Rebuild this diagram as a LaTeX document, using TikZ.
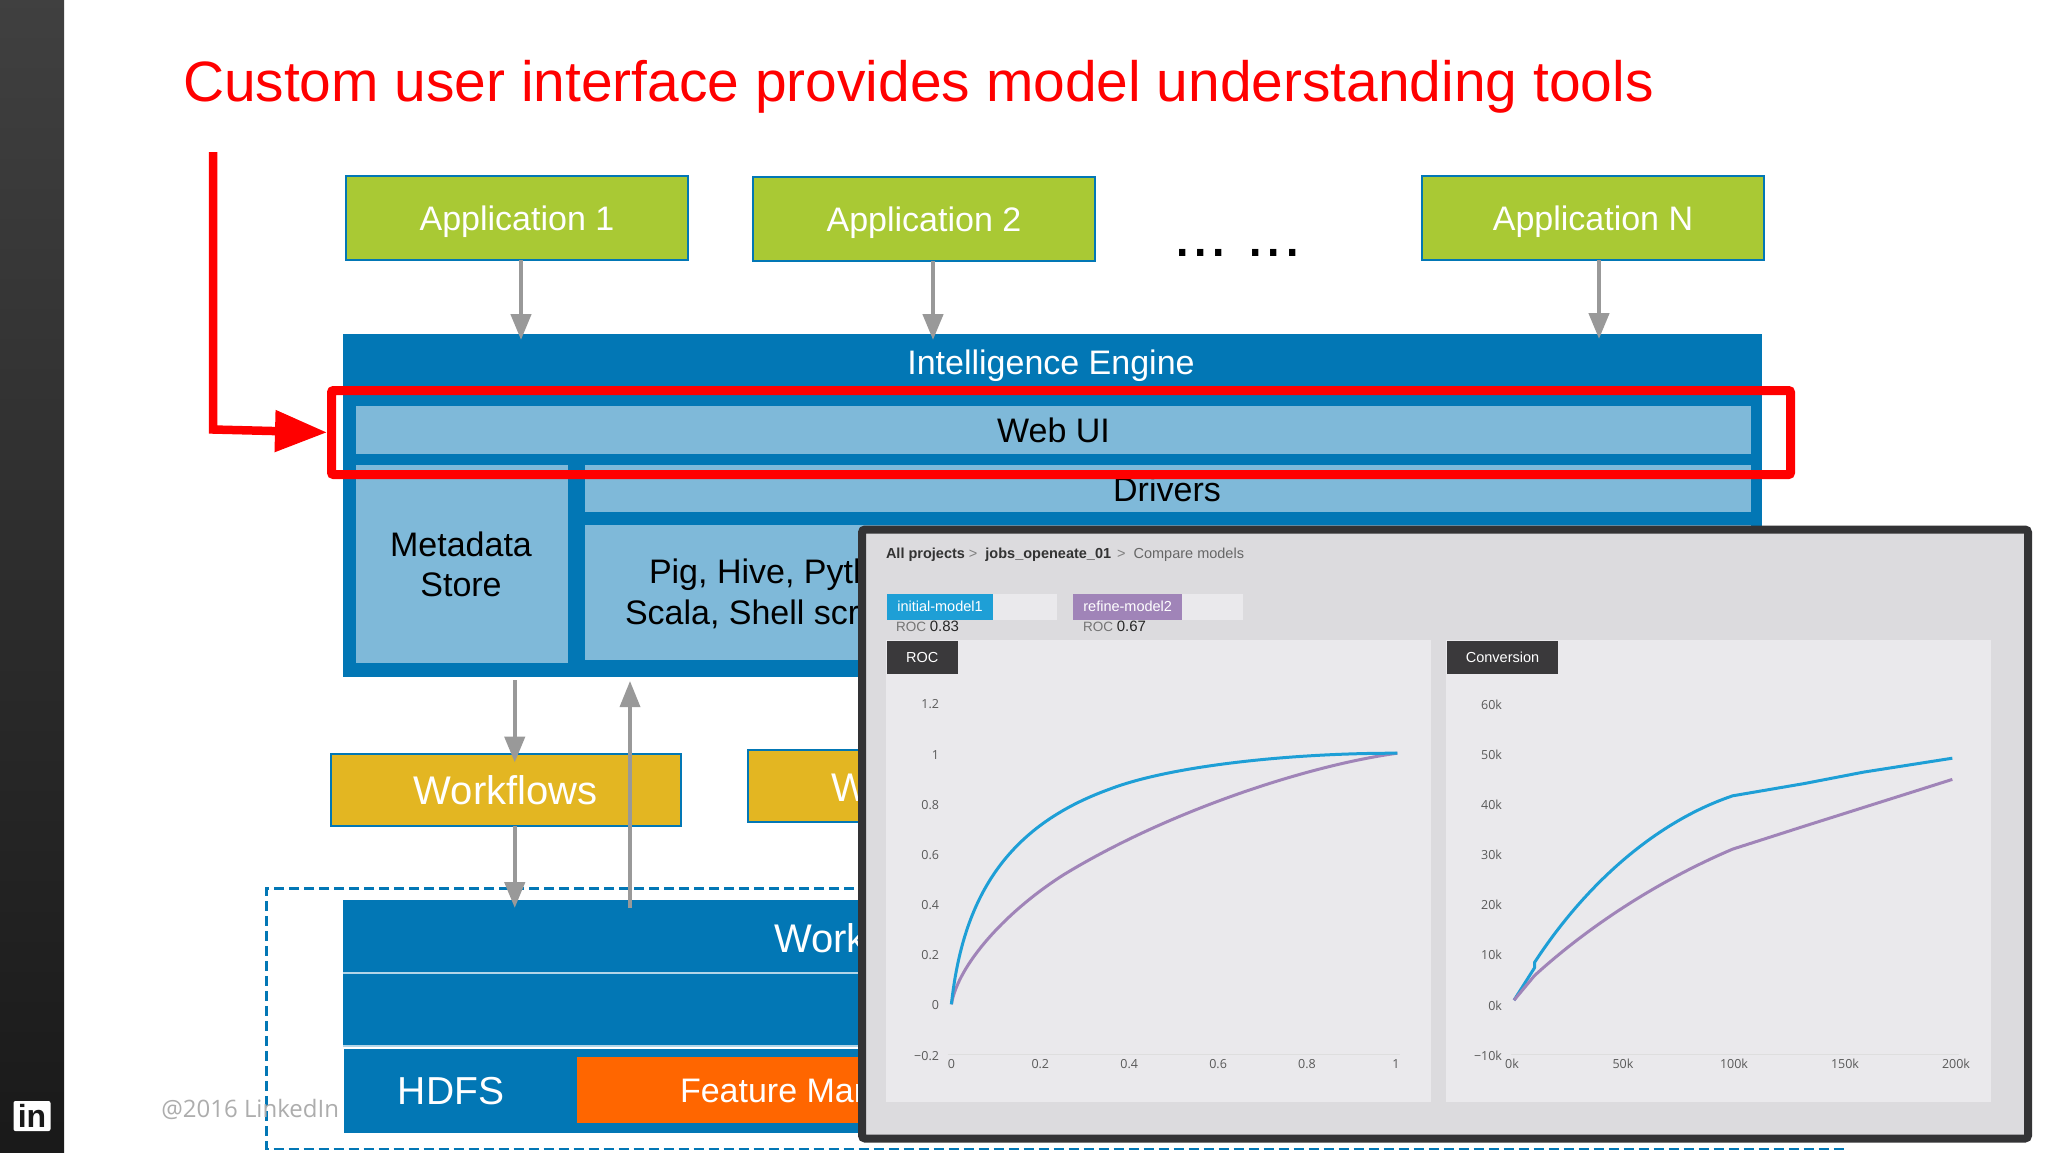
\documentclass[tikz,border=0pt]{standalone}
\usepackage{fontspec}
\setmainfont{Liberation Sans}
\newfontfamily\tickfont{Open Sans}
\usetikzlibrary{positioning,arrows.meta}
\definecolor{engineblue}{HTML}{0277B5}
\definecolor{paleblue}{HTML}{7FB9D9}
\definecolor{appgreen}{HTML}{A9C934}
\definecolor{flowgold}{HTML}{E3B622}
\definecolor{featorange}{HTML}{FF6600}
\definecolor{arrowgrey}{HTML}{999999}
\definecolor{shotframe}{HTML}{333335}
\definecolor{shotback}{HTML}{DCDBDE}
\definecolor{shotpanel}{HTML}{EAE9EC}
\definecolor{tagdark}{HTML}{3A393B}
\definecolor{modelblue}{HTML}{1E9FD6}
\definecolor{modelpurple}{HTML}{A084B8}
\begin{document}
\begin{tikzpicture}[
      x=1pt, y=-1pt,
      every node/.style={inner sep=0pt, outer sep=0pt},
      txt/.style={font=\fontsize{#1}{#1}\selectfont},
      layer/.style={fill=engineblue},
      pale/.style={fill=paleblue},
      appbox/.style={draw=engineblue, line width=2.5pt, fill=appgreen, text=white, txt=34, text depth=0pt, minimum width=342pt, minimum height=84pt},
      wfbox/.style={draw=engineblue, line width=2.5pt, fill=flowgold, text=white, txt=40, minimum height=72pt},
      flow/.style={draw=arrowgrey, line width=4.5pt, -{Triangle[length=26pt,width=20pt]}},
      redline/.style={draw=red, line width=9pt},
      chip/.style={text=white, txt=14.5, minimum height=26pt},
      track/.style={fill=shotpanel, minimum height=26pt},
      tag/.style={fill=tagdark, text=white, txt=14.5, minimum height=33pt},
      panel/.style={fill=shotpanel, minimum height=462pt},
      tick/.style={font=\tickfont\fontsize{12.5}{13}\selectfont, text=black!65},
      axisline/.style={draw=black!13, line width=1pt},
      curve/.style={line width=3pt, line join=round}
      ]
      \path[use as bounding box] (0,0) rectangle (2048,1152);
      \fill[white] (0,0) rectangle (2048,1152);

      \node[top color=black!75, bottom color=black!90, minimum width=64pt, minimum height=1152pt] (sidebar) at (32,576) {};
      \node[fill=white, rounded corners=2pt, minimum width=37pt, minimum height=30pt, text=black!90, font=\bfseries\fontsize{32}{32}\selectfont] (inlogo) at (32,1116) {in};

      \node[anchor=base west, text=red, txt=56.9] (title) at (183,101) {Custom user interface provides model understanding tools};

      \node[appbox] (app1) at (517,218) {Application 1};
      \node[appbox, right=65pt of app1, yshift=-1pt] (app2) {Application 2};
      \node[appbox] (appN) at (1593,218) {Application N};
      \node[anchor=base west, txt=66] (dots) at (1173,256) {...\hspace{18.5pt}...};

      \node[layer, minimum width=1419pt, minimum height=343pt] (engine) at (1052.5,505.5) {};
      \node[text=white, txt=34, text depth=0pt] (enginetext) at (1051,362) {Intelligence Engine};
      \node[pale, minimum width=1395pt, minimum height=48pt, txt=34] (webui) at (1053.5,430) {Web UI};
      \node[pale, minimum width=212pt, minimum height=198pt] (metastore) at (462,564) {};
      \node[align=center, txt=34] (metatext) at (461,564) {Metadata\\[6pt]Store};
      \node[pale, minimum width=1166pt, minimum height=47pt] (drivers) at (1168,488.5) {};
      \node[txt=34] (driverstext) at (1167,489) {Drivers};
      \node[pale, minimum width=1166pt, minimum height=135pt] (langs) at (1168,592.5) {};
      \node[anchor=west, txt=34] (langs1) at (649,575) {Pig, Hive, Pyth};
      \node[anchor=west, txt=34] (langs2) at (625,614) {Scala, Shell scri};

      \node[wfbox, minimum width=350pt] (wf1) at (505.75,790) {Workflows};
      \node[wfbox, minimum width=350pt, anchor=west] (wf2) at (748,786) {};
      \node[anchor=west, text=white, txt=40] (wf2text) at (831,788) {Wo};

      % le cadre en pointilles
      \draw[engineblue, line width=2.5pt, dash pattern=on 10pt off 5pt] (1844,888.5) -- (266.5,888.5) -- (266.5,1149) -- (1844,1149);

      \node[layer, minimum width=1419pt, minimum height=73pt] (work) at (1052.5,936.5) {};
      \node[anchor=west, text=white, txt=40] (worktext) at (774,938) {Workf};
      \node[layer, minimum width=1419pt, minimum height=73pt] (middle) at (1052.5,1009.5) {};
      \draw[paleblue!60!white, line width=2pt] (work.south west) -- (work.south east);
      \draw[paleblue!60!white, line width=2pt] (middle.south west) -- (middle.south east);
      \node[layer, minimum width=1418pt, minimum height=84pt] (store) at (1053,1091) {};
      \node[text=white, txt=39] (hdfs) at (451,1091) {HDFS};
      \node[fill=featorange, minimum width=1100pt, minimum height=66pt] (feature) at (1127,1090) {};
      \node[anchor=west, text=white, txt=34] (featuretext) at (680,1091) {Feature Mar};
      \node[anchor=east, text=black!32, font=\tickfont\fontsize{24}{24}\selectfont] (copyright) at (339,1109) {@2016 LinkedIn};

      \path[flow, shorten >=-6pt] ([xshift=4pt]app1.south) -- ([xshift=4pt]app1.south |- engine.north);
      \path[flow, shorten >=-6pt] ([xshift=9pt]app2.south) -- ([xshift=9pt]app2.south |- engine.north);
      \path[flow, shorten >=-5pt] ([xshift=6pt]appN.south) -- ([xshift=6pt]appN.south |- engine.north);
      \path[flow, shorten >=-8.5pt, shorten <=3pt] ([xshift=9pt]wf1.north |- engine.south) -- ([xshift=9pt]wf1.north);
      \path[flow, shorten >=-8pt] ([xshift=9pt]wf1.south) -- ([xshift=9pt]wf1.south |- work.north);
      \path[flow, line width=3.5pt, shorten <=-8pt, shorten >=4pt] ([xshift=-422.5pt]work.north) -- ([xshift=-422.5pt]engine.south);

      \node[redline, rounded corners=2pt, minimum width=1459pt, minimum height=84pt] (webred) at (1061,432.5) {};
      \coordinate (redstart) at (213,152);
      \coordinate (redbend) at (213,429.5);
      \draw[red, line width=8.5pt, line join=miter, -{Triangle[length=52pt,width=40pt]}, shorten >=4.5pt] (redstart) -- (redbend) -- (webred.west);

      % la copie d'ecran
      \node[draw=shotframe, line width=8pt, fill=shotback, rounded corners=3pt, minimum width=1166pt, minimum height=609pt] (shot) at (1445,834) {};
      \node[anchor=west, txt=14.5, text=black!80] (crumbs) at (886,555) {\textbf{All projects}\hspace{4pt}{\color{black!50}>}\hspace{8pt}\textbf{jobs\_openeate\_01}\hspace{6pt}{\color{black!50}>}\hspace{8pt}{\color{black!60}Compare models}};

      \node[chip, fill=modelblue, minimum width=106pt] (chip1) at (940,606.8) {initial-model1};
      \node[track, right=0pt of chip1, minimum width=64pt] (track1) {};
      \node[chip, fill=modelpurple, minimum width=108.5pt] (chip2) at (1127.7,606.8) {refine-model2};
      \node[track, right=0pt of chip2, minimum width=61.5pt] (track2) {};
      \node[anchor=west, txt=13.5, text=black!55] (score1) at (896,626) {ROC {\color{black!85}\fontsize{15}{15}\selectfont 0.83}};
      \node[anchor=west, txt=13.5, text=black!55] (score2) at (1083,626) {ROC {\color{black!85}\fontsize{15}{15}\selectfont 0.67}};

      \node[panel, minimum width=545pt] (rocpanel) at (1158.5,871) {};
      \node[panel, minimum width=544.5pt] (convpanel) at (1718.25,871) {};
      \node[tag, minimum width=70.5pt, anchor=north west] (roctag) at (887,641) {ROC};
      \node[tag, minimum width=111pt, anchor=north west] (convtag) at (1447,641) {Conversion};

      % axes ROC
      \coordinate (rocaxis1) at (947.6,1054.6);
      \coordinate (rocaxis2) at (1400,1054.6);
      \draw[axisline] (rocaxis1) -- (rocaxis2);
      \foreach \val [count=\i] in {1.2,1,0.8,0.6,0.4,0.2,0,−0.2}
        \node[tick, anchor=east] (rocy\i) at (939,{704.5+50.15*(\i-1)}) {\val};
      \foreach \val [count=\i] in {0,0.2,0.4,0.6,0.8,1}
        \node[tick] (rocx\i) at ({951.4+88.9*(\i-1)},1063.6) {\val};
      \draw[curve, modelpurple] (951.4,1004.3) .. controls (958,965) and (1005,912) .. (1064,874.5) .. controls (1170,810) and (1310,765) .. (1397.3,753.2);
      \draw[curve, modelblue] (951.4,1004.3) .. controls (963,897) and (1007,826) .. (1110,789) .. controls (1170,766) and (1290,753) .. (1397.3,753.2);

      % axes Conversion
      \coordinate (convaxis1) at (1511,1054.6);
      \coordinate (convaxis2) at (1959,1054.6);
      \draw[axisline] (convaxis1) -- (convaxis2);
      \foreach \val [count=\i] in {60k,50k,40k,30k,20k,10k,0k,−10k}
        \node[tick, anchor=east] (convy\i) at (1502,{704.5+50.15*(\i-1)}) {\val};
      \foreach \val [count=\i] in {0k,50k,100k,150k,200k}
        \node[tick] (convx\i) at ({1512+111*(\i-1)},1063.6) {\val};
      \draw[curve, modelblue] (1514,1000.2) -- (1534.5,967.8) -- (1534.5,962.5) .. controls (1585,885) and (1655,822) .. (1732.7,795.8) -- (1804.5,783.5) -- (1863.6,772.1) -- (1952.3,758.2);
      \draw[curve, modelpurple] (1514,1000.2) -- (1534.5,975.6) .. controls (1590,925) and (1660,880) .. (1732.7,849.1) -- (1804.5,826.1) -- (1952.3,779.4);
    \end{tikzpicture}
\end{document}
